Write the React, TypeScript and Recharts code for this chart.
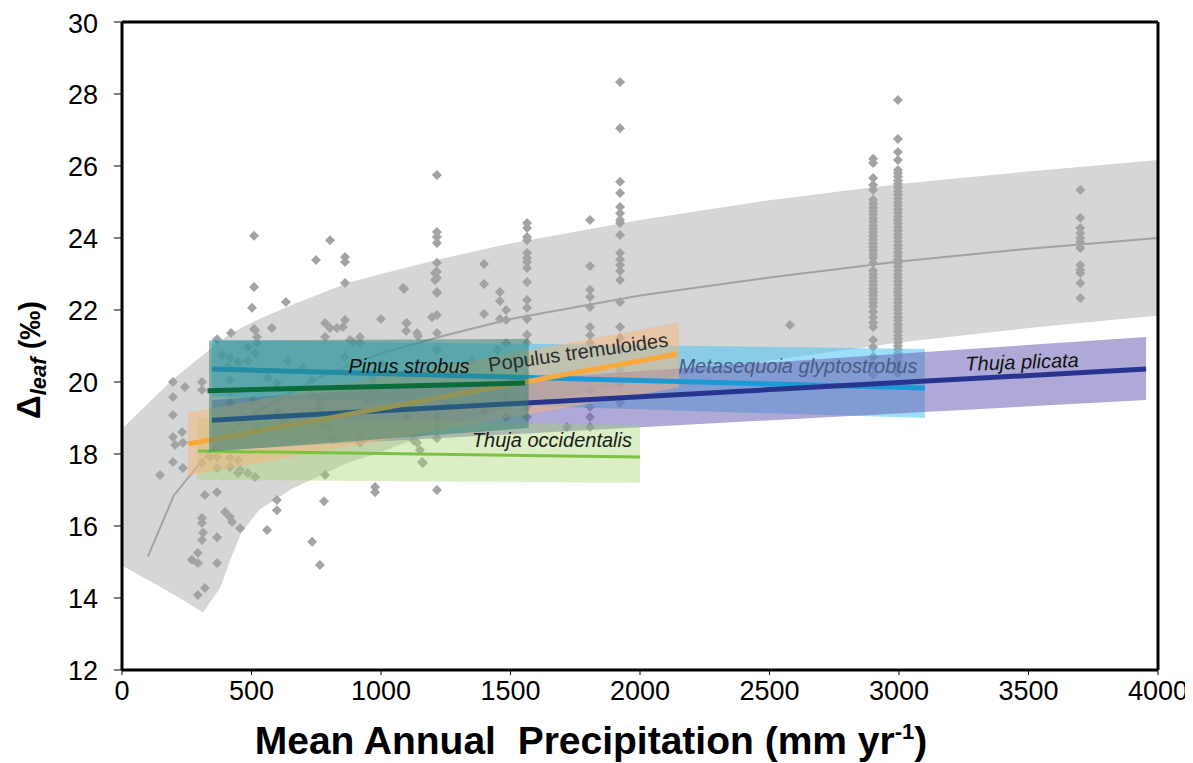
import { ComposedChart, XAxis, YAxis, Area, Line, Scatter, ReferenceLine } from 'recharts'

const FONT = "'Liberation Sans', Arial, sans-serif"

// global log fit and its grey envelope
const bandX = [0, 100, 200, 313, 380, 420, 460, 530, 660, 870, 1000, 1250, 1500, 2000, 2500, 3000, 3500, 4000]
const bandUpper = [18.7, 19.4, 20.1, 20.75, 21.15, 21.35, 21.5, 21.75, 22.15, 22.75, 23.0, 23.45, 23.85, 24.5, 25.05, 25.5, 25.85, 26.17]
const bandLower = [14.9, 14.5, 14.1, 13.6, 14.3, 15.1, 15.8, 16.45, 17.05, 17.75, 18.05, 18.75, 19.3, 20.0, 20.6, 21.1, 21.5, 21.85]
const fitX = [100, 200, 313, 400, 500, 750, 1000, 1250, 1500, 2000, 2500, 3000, 3500, 4000]
const fitY = [15.15, 16.85, 17.85, 18.5, 19.1, 20.1, 20.8, 21.3, 21.75, 22.4, 22.9, 23.35, 23.7, 24.0]

// scattered observations [MAP, Δleaf]
const looseObs: [number, number][] = [
  [147, 17.42], [197, 20.0], [243, 19.86], [309, 20.0], [309, 19.78], [197, 19.58], [197, 19.08], [197, 18.47],
  [232, 18.61], [205, 18.25], [235, 18.31], [197, 17.78], [235, 17.61], [320, 16.86], [367, 16.94], [598, 16.72],
  [598, 16.44], [780, 16.69], [398, 16.39], [417, 16.25], [425, 16.11], [309, 16.22], [309, 16.08], [456, 15.94],
  [560, 15.89], [313, 15.81], [309, 15.61], [367, 15.69], [734, 15.56], [293, 15.25], [270, 15.06], [293, 14.97],
  [367, 14.97], [764, 14.92], [320, 14.28], [293, 14.08], [977, 17.08], [977, 16.94], [367, 17.92], [417, 17.89],
  [448, 17.83], [417, 17.64], [456, 17.56], [486, 17.47], [514, 17.36], [448, 17.47], [367, 17.61], [309, 17.75],
  [340, 17.92], [784, 17.42], [1158, 17.78], [1216, 17.0], [1162, 17.75], [367, 21.19], [421, 21.36], [510, 21.47],
  [514, 21.44], [579, 21.5], [502, 22.06], [510, 22.64], [510, 24.06], [633, 22.22], [749, 23.39], [803, 23.94],
  [861, 23.47], [861, 23.33], [861, 22.75], [1089, 22.58], [1000, 21.75], [1097, 21.64], [1097, 21.42], [1143, 21.28],
  [784, 21.64], [803, 21.5], [830, 21.5], [853, 21.53], [784, 21.25], [861, 21.72], [880, 21.17], [919, 21.25],
  [521, 21.25], [521, 21.08], [486, 20.97], [514, 20.8], [486, 20.6], [386, 20.75], [417, 20.67], [448, 20.56],
  [409, 20.42], [892, 21.11], [919, 21.08], [1085, 22.61], [1100, 21.64], [1139, 21.36], [417, 20.06], [417, 19.72],
  [417, 19.42], [506, 19.5], [514, 19.08], [521, 18.75], [564, 20.11], [598, 19.97], [602, 19.17], [622, 18.94],
  [734, 20.06], [726, 19.69], [764, 19.5], [764, 19.28], [776, 18.75], [803, 18.75], [815, 18.39], [919, 18.58],
  [919, 18.31], [946, 19.5], [969, 19.22], [969, 20.06], [1100, 20.25], [1100, 19.5], [1100, 19.03], [1124, 18.39],
  [1139, 18.31], [1150, 18.11], [640, 20.6], [700, 20.4], [860, 20.7], [1000, 20.5], [1180, 20.3], [1300, 19.9],
  [1350, 20.6], [1400, 19.2], [1450, 20.9], [1250, 19.4], [1398, 23.28], [1398, 22.72], [1398, 21.89], [1459, 22.5],
  [1459, 22.25], [1483, 22.0], [1459, 21.75], [1483, 21.72], [1483, 19.58], [1483, 19.03], [1483, 21.08], [1718, 18.75],
  [1208, 23.03], [1208, 22.83], [1197, 21.8], [2579, 21.58],
]

// sites sampled many times at one MAP value
const columnX = [1216, 1564, 1807, 1923, 2900, 2996, 3700]
const columnY = [
  [25.75, 24.17, 24.03, 23.86, 23.31, 23.06, 22.89, 22.5, 22.47, 21.86, 21.36, 20.89, 19.03, 18.75, 18.44],
  [24.42, 24.28, 24.03, 23.94, 23.58, 23.44, 23.33, 23.17, 22.78, 22.28, 22.06, 21.75, 21.31, 21.08, 20.6, 20.2, 19.58, 19.31, 19.03],
  [24.5, 23.22, 22.56, 22.36, 22.08, 21.53, 21.3, 21.08, 19.78, 19.31, 19.03, 18.75],
  [28.33, 27.05, 25.56, 25.25, 24.86, 24.69, 24.5, 24.42, 24.08, 23.58, 23.4, 23.25, 23.08, 22.83, 22.22, 21.53, 21.22, 20.89, 20.33, 19.97, 19.42],
  [26.2, 26.08, 25.67, 25.47, 25.33, 25.06, 24.95, 24.85, 24.75, 24.65, 24.55, 24.45, 24.35, 24.25, 24.15, 24.05, 23.95, 23.85,
    23.75, 23.65, 23.55, 23.45, 23.31, 23.1, 23.0, 22.9, 22.8, 22.7, 22.6, 22.5, 22.4, 22.3, 22.2, 22.1, 21.95, 21.8, 21.65,
    21.53, 21.17, 20.97, 20.7, 20.45, 20.2],
  [27.83, 26.75, 26.39, 26.17, 25.89, 25.8, 25.7, 25.6, 25.5, 25.4, 25.3, 25.2, 25.1, 25.0, 24.9, 24.8, 24.7, 24.6, 24.5,
    24.4, 24.3, 24.2, 24.1, 24.0, 23.9, 23.8, 23.7, 23.6, 23.5, 23.4, 23.3, 23.2, 23.1, 23.0, 22.9, 22.8, 22.7, 22.6, 22.5,
    22.4, 22.3, 22.2, 22.1, 22.0, 21.9, 21.8, 21.7, 21.6, 21.5, 21.4, 21.3, 21.2, 21.1, 21.0, 20.9, 20.8, 20.7, 20.6, 20.5,
    20.4, 20.25],
  [25.33, 24.56, 24.28, 24.14, 24.0, 23.89, 23.72, 23.25, 23.11, 23.03, 22.75, 22.33],
]

// species regressions: trend line end points and shaded envelope corners
// drawing order: Metasequoia, Thuja plicata, Thuja occidentalis, Populus, Pinus
const speciesName = ['Metasequoia glyptostrobus', 'Thuja plicata', 'Thuja occidentalis', 'Populus tremuloides', 'Pinus strobus']
const lineX0 = [347, 347, 293, 255, 330]
const lineX1 = [3100, 3954, 2000, 2143, 1556]
const lineY0 = [20.36, 18.94, 18.08, 18.28, 19.76]
const lineY1 = [19.83, 20.36, 17.92, 20.78, 19.97]
const envX0 = [347, 347, 290, 255, 336]
const envX1 = [3100, 3954, 2000, 2150, 1570]
const envLo0 = [19.6, 18.1, 17.28, 17.4, 18.06]
const envHi0 = [21.17, 19.5, 19.0, 19.15, 21.15]
const envLo1 = [19.0, 19.5, 17.2, 19.85, 18.72]
const envHi1 = [20.92, 21.25, 18.8, 21.65, 21.2]

const lineColor = ['#1b9ad6', '#27358f', '#7cc242', '#f9a93b', '#0b6b3a']
const envColor = ['#4cc4f2', '#6b63b5', '#a6d470', '#f7b57a', '#2a8070']
const envOpacity = [0.55, 0.55, 0.4, 0.5, 0.5]
const lineWidth = [5, 5, 3, 5, 5]

// species labels
const labelText = ['Pinus strobus', 'Populus tremuloides', 'Metasequoia glyptostrobus', 'Thuja plicata', 'Thuja occidentalis']
const labelX = [1108, 1761, 2610, 3475, 1660]
const labelY = [20.44, 20.83, 20.44, 20.56, 18.39]
const labelAngle = [0, -8, 0, -2, 0]
const labelItalic = [true, false, true, true, true]
const labelColor = ['#111', '#2b2b2b', '#4c5a86', '#111', '#1a1a1a']

const xTicks = [0, 500, 1000, 1500, 2000, 2500, 3000, 3500, 4000]
const yTicks = [12, 14, 16, 18, 20, 22, 24, 26, 28, 30]

const bandData = bandX.map((x, i) => ({ x, range: [bandLower[i], bandUpper[i]] }))
const fitData = fitX.map((x, i) => ({ x, y: fitY[i] }))
const obsData = [
  ...looseObs.map(([x, y]) => ({ x, y })),
  ...columnX.flatMap((x, i) => columnY[i].map((y) => ({ x, y }))),
]
const labelData = labelText.map((text, i) => ({
  x: labelX[i], y: labelY[i], text, angle: labelAngle[i], italic: labelItalic[i], color: labelColor[i],
}))

function Diamond(props: any) {
  const { cx, cy } = props
  if (cx == null || cy == null) return null
  const r = 5
  return <path d={`M${cx},${cy - r}L${cx + r},${cy}L${cx},${cy + r}L${cx - r},${cy}Z`} fill="#a3a3a3" />
}

function SpeciesLabel(props: any) {
  const { cx, cy, payload } = props
  if (cx == null || !payload) return null
  return (
    <text
      x={cx}
      y={cy}
      textAnchor="middle"
      dominantBaseline="central"
      transform={`rotate(${payload.angle}, ${cx}, ${cy})`}
      fontFamily={FONT}
      fontSize={20}
      fontStyle={payload.italic ? 'italic' : 'normal'}
      fill={payload.color}
    >
      {payload.text}
    </text>
  )
}

function YTitle() {
  return (
    <text x={32} y={352} transform="rotate(-90, 32, 352)" textAnchor="middle" fontFamily={FONT} fontWeight="bold" fill="#000">
      <tspan fontSize={33}>Δ</tspan>
      <tspan fontSize={22} fontStyle="italic" dy={6}>leaf</tspan>
      <tspan fontSize={29} dy={-6}> (‰)</tspan>
    </text>
  )
}

function XTitle() {
  return (
    <text x={583} y={746} textAnchor="middle" fontFamily={FONT} fontWeight="bold" fontSize={39} fill="#000">
      {'Mean Annual\u00a0 Precipitation (mm yr'}
      <tspan fontSize={22} dy={-15}>-1</tspan>
      <tspan dy={15}>)</tspan>
    </text>
  )
}

function speciesEnv(i: number) {
  return [
    { x: envX0[i], range: [envLo0[i], envHi0[i]] },
    { x: envX1[i], range: [envLo1[i], envHi1[i]] },
  ]
}

function speciesLine(i: number) {
  return [
    { x: lineX0[i], y: lineY0[i] },
    { x: lineX1[i], y: lineY1[i] },
  ]
}

export default function App() {
  const tick = { fill: '#000', fontSize: 27, fontFamily: FONT }
  return (
    <div>
      <style>{'body{overflow:hidden}'}</style>
      <ComposedChart width={1180} height={760} margin={{ top: 14, right: 30, bottom: 0, left: 0 }}>
        <XAxis
          dataKey="x"
          type="number"
          domain={[0, 4000]}
          ticks={xTicks}
          allowDataOverflow
          height={98}
          tick={tick}
          tickSize={5}
          tickMargin={6}
          axisLine={{ stroke: '#000', strokeWidth: 3 }}
          tickLine={{ stroke: '#000', strokeWidth: 1 }}
          label={<XTitle />}
        />
        <YAxis
          type="number"
          domain={[12, 30]}
          ticks={yTicks}
          allowDataOverflow
          width={114}
          tick={tick}
          tickSize={8}
          tickMargin={16}
          axisLine={{ stroke: '#000', strokeWidth: 3 }}
          tickLine={{ stroke: '#000', strokeWidth: 1 }}
          label={<YTitle />}
        />
        <Area
          data={bandData}
          dataKey="range"
          type="linear"
          stroke="none"
          fill="#d6d6d6"
          fillOpacity={1}
          isAnimationActive={false}
          zIndex={100}
        />
        <Line
          data={fitData}
          dataKey="y"
          type="linear"
          stroke="#a3a3a3"
          strokeWidth={2}
          dot={false}
          activeDot={false}
          isAnimationActive={false}
          zIndex={110}
        />
        <Scatter data={obsData} dataKey="y" shape={(p: any) => <Diamond {...p} />} isAnimationActive={false} zIndex={120} />
        {speciesName.slice(0, 4).map((name, i) => (
          <Area
            key={'env' + name}
            data={speciesEnv(i)}
            dataKey="range"
            type="linear"
            stroke="none"
            fill={envColor[i]}
            fillOpacity={envOpacity[i]}
            isAnimationActive={false}
            zIndex={130 + i}
          />
        ))}
        {speciesName.slice(0, 4).map((name, i) => (
          <Line
            key={'line' + name}
            data={speciesLine(i)}
            dataKey="y"
            type="linear"
            stroke={lineColor[i]}
            strokeWidth={lineWidth[i]}
            dot={false}
            activeDot={false}
            isAnimationActive={false}
            zIndex={140 + i}
          />
        ))}
        <Area
          data={speciesEnv(4)}
          dataKey="range"
          type="linear"
          stroke="none"
          fill={envColor[4]}
          fillOpacity={envOpacity[4]}
          isAnimationActive={false}
          zIndex={150}
        />
        <Line
          data={speciesLine(4)}
          dataKey="y"
          type="linear"
          stroke={lineColor[4]}
          strokeWidth={lineWidth[4]}
          dot={false}
          activeDot={false}
          isAnimationActive={false}
          zIndex={160}
        />
        <Scatter data={labelData} dataKey="y" shape={(p: any) => <SpeciesLabel {...p} />} isAnimationActive={false} zIndex={170} />
        <ReferenceLine y={30} stroke="#000" strokeWidth={3} />
        <ReferenceLine x={4000} stroke="#000" strokeWidth={3} />
      </ComposedChart>
    </div>
  )
}
